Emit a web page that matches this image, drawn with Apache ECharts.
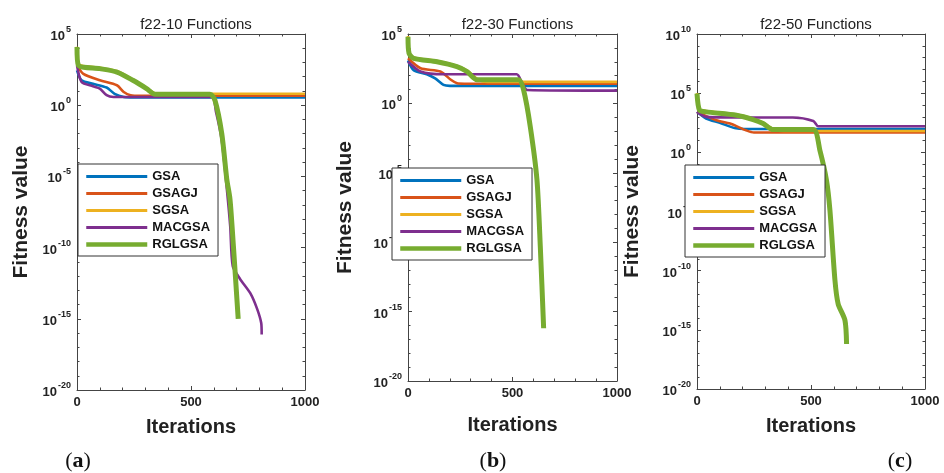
<!DOCTYPE html>
<html>
<head>
<meta charset="utf-8">
<script src="https://cdn.jsdelivr.net/npm/echarts@6.0.0/dist/echarts.min.js"></script>
<style>
  html, body { margin: 0; padding: 0; background: #fff; }
  #chart { width: 944px; height: 473px; }
</style>
</head>
<body>
<div id="chart"></div>
<script>
// names / colours (MATLAB default order)
var seriesNames = ['GSA', 'GSAGJ', 'SGSA', 'MACGSA', 'RGLGSA'];
var seriesColors = ['#0072BD', '#D95319', '#EDB120', '#7E2F8E', '#77AC30'];
var panelTitles = ['f22-10 Functions', 'f22-30 Functions', 'f22-50 Functions'];
var panelLetters = ['a', 'b', 'c'];
var yMaxExp = [5, 5, 10];
var yMinExp = [-20, -20, -20];

// [iteration, log10(fitness)]
var gsaA = [[0, 2.45], [20, 1.75], [70, 1.5], [130, 1.24], [165, 0.8], [205, 0.58], [250, 0.55], [1000, 0.55]];
var gsagjA = [[0, 2.8], [28, 2.2], [100, 1.75], [175, 1.4], [205, 0.93], [235, 0.7], [280, 0.66], [1000, 0.66]];
var sgsaA = [[0, 4.1], [6, 2.9], [100, 2.62], [175, 2.4], [245, 1.8], [305, 1.22], [345, 0.82], [380, 0.8], [1000, 0.8]];
var macgsaA = [[0, 2.8], [20, 1.63], [70, 1.33], [100, 1.17], [130, 0.7], [160, 0.58], [590, 0.58], [610, -0.5], [635, -2.5],
  [655, -5.5], [672, -8.5], [683, -11.3], [715, -12.2], [760, -13.2], [790, -14.3], [808, -15.3], [810, -16.1]];
var rglgsaA = [[0, 4.08], [6, 2.8], [100, 2.57], [175, 2.33], [245, 1.75], [305, 1.17], [342, 0.77], [583, 0.77], [605, 0.35],
  [635, -2], [657, -5.2], [671, -6.6], [686, -9.9], [707, -15]];

var gsaB = [[0, 3.1], [27, 2.4], [90, 2.1], [130, 1.8], [170, 1.33], [200, 1.26], [1000, 1.26]];
var gsagjB = [[0, 3.25], [60, 2.53], [155, 2.3], [205, 1.7], [235, 1.45], [270, 1.42], [1000, 1.42]];
var sgsaB = [[0, 4.85], [5, 3.7], [27, 3.3], [140, 3.05], [235, 2.7], [285, 2.35], [335, 1.72], [380, 1.55], [1000, 1.55]];
var macgsaB = [[0, 3.0], [60, 2.3], [170, 2.1], [520, 2.1], [545, 1.5], [570, 0.97], [1000, 0.92]];
var rglgsaB = [[0, 4.8], [5, 3.6], [27, 3.25], [139, 3.0], [234, 2.65], [282, 2.3], [330, 1.7], [529, 1.7], [553, 0.97],
  [585, -1.67], [617, -5.5], [633, -10.3], [649, -16.2]];

var gsaC = [[0, 3.42], [40, 2.86], [100, 2.49], [165, 2.06], [210, 1.97], [1000, 1.97]];
var gsagjC = [[0, 3.42], [85, 2.71], [145, 2.43], [215, 1.86], [250, 1.67], [1000, 1.67]];
var sgsaC = [[0, 5.0], [10, 3.65], [40, 3.5], [175, 3.2], [245, 2.85], [290, 2.5], [335, 1.95], [380, 1.8], [1000, 1.8]];
var macgsaC = [[0, 3.42], [40, 3.0], [245, 2.94], [420, 2.94], [510, 2.65], [532, 2.2], [1000, 2.2]];
var rglgsaC = [[0, 4.97], [11, 3.56], [40, 3.42], [173, 3.14], [246, 2.77], [290, 2.43], [334, 1.92], [510, 1.92], [539, 0.17],
  [568, -2.37], [583, -4.9], [605, -10.8], [619, -12.8], [649, -14.2], [656, -16.2]];

var panelData = [
  [gsaA, gsagjA, sgsaA, macgsaA, rglgsaA],
  [gsaB, gsagjB, sgsaB, macgsaB, rglgsaB],
  [gsaC, gsagjC, sgsaC, macgsaC, rglgsaC]
];

// layout
var grids = [
  { left: 77, top: 34, width: 228, height: 356 },
  { left: 408, top: 34, width: 209, height: 347 },
  { left: 697, top: 34, width: 228, height: 355 }
];
var legendPos = [{ left: 78, top: 164 }, { left: 392, top: 168 }, { left: 685, top: 165 }];
var yNameGap = [45, 52, 54];
var xNameGap = [27, 34, 27];
var letterX = [78, 493, 900];

var FONT = 'Liberation Sans, Arial, sans-serif';
var AXIS_COLOR = '#444';

var chart = echarts.init(document.getElementById('chart'), null, { renderer: 'canvas' });

var option = {
  backgroundColor: '#fff',
  animation: false,
  title: [],
  grid: [],
  xAxis: [],
  yAxis: [],
  legend: [],
  series: [],
  graphic: []
};

grids.forEach(function (g, i) {
  option.grid.push({ left: g.left, top: g.top, width: g.width, height: g.height, show: false });

  option.title.push({
    text: panelTitles[i],
    left: g.left + g.width / 2,
    top: 12,
    textAlign: 'center',
    textStyle: { fontFamily: FONT, fontSize: 15, fontWeight: 'normal', color: '#222' }
  });

  var xBase = {
    type: 'value', gridIndex: i, min: 0, max: 1000, interval: 500,
    axisLine: { show: true, onZero: false, lineStyle: { color: AXIS_COLOR, width: 1 } },
    axisTick: { show: true, inside: true, length: 4, lineStyle: { color: AXIS_COLOR } },
    minorTick: { show: true, splitNumber: 5, length: 2.5, lineStyle: { color: AXIS_COLOR } },
    splitLine: { show: false }
  };
  option.xAxis.push(Object.assign({}, xBase, {
    position: 'bottom',
    name: 'Iterations',
    nameLocation: 'middle',
    nameGap: xNameGap[i],
    nameTextStyle: { fontFamily: FONT, fontSize: 20, fontWeight: 'bold', color: '#222' },
    axisLabel: {
      margin: 6, fontFamily: FONT, fontSize: 13, fontWeight: 'bold', color: '#222',
      formatter: function (v) { return String(v); }
    }
  }));
  option.xAxis.push(Object.assign({}, xBase, { position: 'top', axisLabel: { show: false } }));

  var yBase = {
    type: 'value', gridIndex: i, min: yMinExp[i], max: yMaxExp[i], interval: 5,
    axisLine: { show: true, onZero: false, lineStyle: { color: AXIS_COLOR, width: 1 } },
    axisTick: { show: true, inside: true, length: 4, lineStyle: { color: AXIS_COLOR } },
    minorTick: { show: true, splitNumber: 5, length: 2.5, lineStyle: { color: AXIS_COLOR } },
    splitLine: { show: false }
  };
  option.yAxis.push(Object.assign({}, yBase, {
    position: 'left',
    name: 'Fitness value',
    nameLocation: 'middle',
    nameRotate: 90,
    nameGap: yNameGap[i],
    nameTextStyle: { fontFamily: FONT, fontSize: 21, fontWeight: 'bold', color: '#222' },
    axisLabel: {
      margin: 6,
      formatter: function (v) { return '{b|10}{s|' + v + '}'; },
      rich: {
        b: { fontFamily: FONT, fontSize: 13, fontWeight: 'bold', color: '#222', lineHeight: 18, verticalAlign: 'bottom' },
        s: { fontFamily: FONT, fontSize: 9, fontWeight: 'bold', color: '#222', lineHeight: 18, verticalAlign: 'top', padding: [0, 0, 0, 1] }
      }
    }
  }));
  option.yAxis.push(Object.assign({}, yBase, { position: 'right', axisLabel: { show: false } }));

  option.legend.push({
    orient: 'vertical',
    left: legendPos[i].left,
    top: legendPos[i].top,
    data: seriesNames.map(function (n, k) {
      return { name: n, lineStyle: { width: k === 4 ? 4.5 : 3 } };
    }),
    itemWidth: 61,
    itemHeight: 14,
    itemGap: 4,
    padding: [6, 8, 5, 6],
    backgroundColor: '#fff',
    borderColor: '#333',
    borderWidth: 1,
    borderRadius: 0,
    selectedMode: false,
    itemStyle: { opacity: 0 },
    textStyle: { fontFamily: FONT, fontSize: 13, fontWeight: 'bold', color: '#111' }
  });

  panelData[i].forEach(function (d, k) {
    option.series.push({
      name: seriesNames[k],
      type: 'line',
      xAxisIndex: 2 * i,
      yAxisIndex: 2 * i,
      data: d,
      symbol: 'none',
      smooth: 0.25,
      clip: true,
      color: seriesColors[k],
      lineStyle: { color: seriesColors[k], width: k === 4 ? 5 : 2.6 }
    });
  });

  option.graphic.push({
    type: 'text',
    x: letterX[i],
    y: 461,
    style: {
      text: '({l|' + panelLetters[i] + '})',
      font: '22px "Liberation Serif", serif',
      fill: '#111',
      align: 'center',
      verticalAlign: 'middle',
      rich: { l: { fontFamily: 'Liberation Serif, serif', fontSize: 22, fontWeight: 'bold', fill: '#111' } }
    }
  });
});

chart.setOption(option);
</script>
</body>
</html>
